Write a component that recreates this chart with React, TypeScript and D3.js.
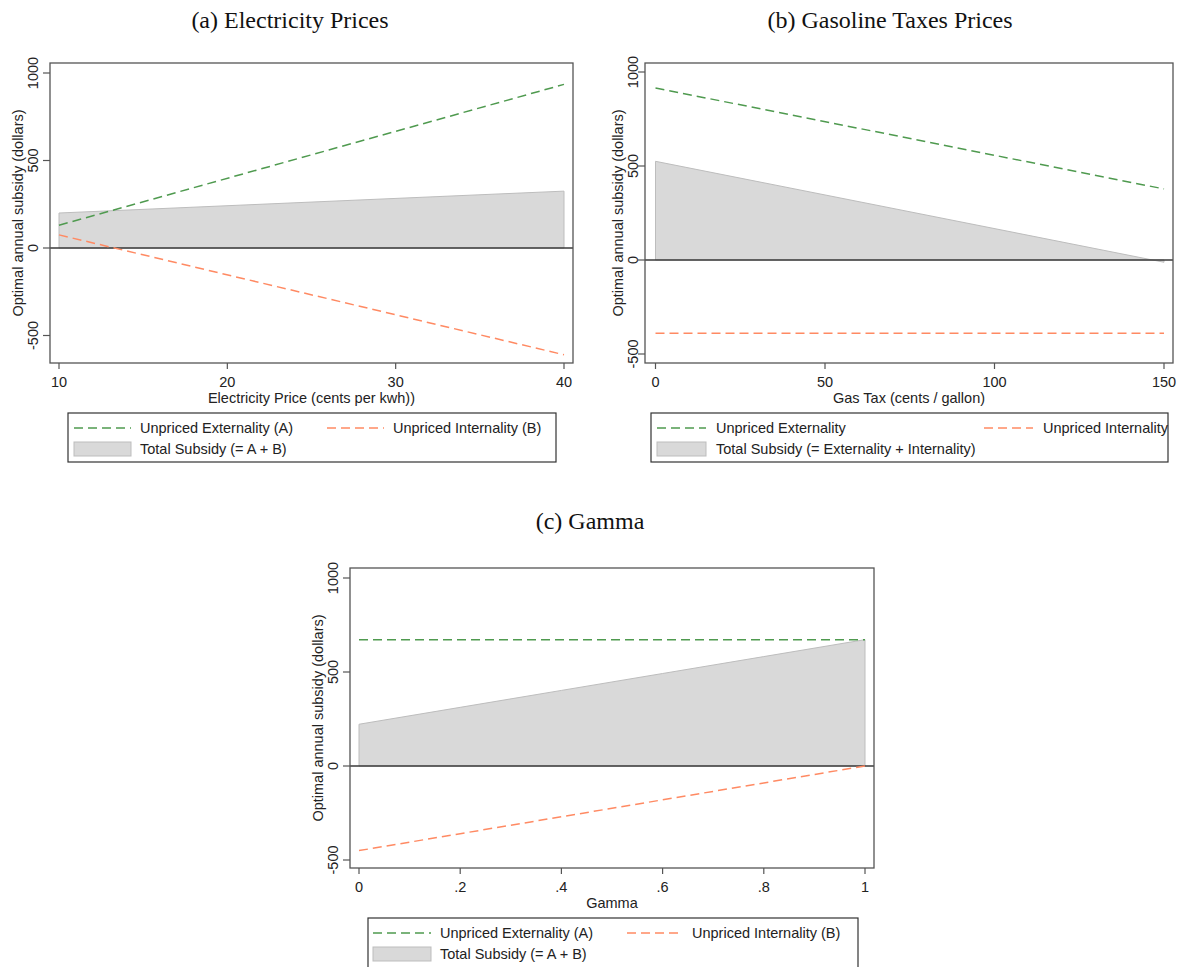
import React from "react";
import * as d3 from "d3";

// values
const yTicks = [-500, 0, 500, 1000];

const elecPrice = [10, 40];
const elecExternality = [130, 935];
const elecInternality = [75, -610];
const elecTotal = [200, 325];
const elecTicks = [10, 20, 30, 40];

const gasTax = [0, 150];
const gasExternality = [915, 378];
const gasInternality = [-390, -390];
const gasTotal = [525, -12];
const gasTicks = [0, 50, 100, 150];

const gamma = [0, 0.2, 0.4, 0.6, 0.8, 1];
const gammaExternality = [672, 672, 672, 672, 672, 672];
const gammaInternality = [-450, -360, -270, -180, -90, 0];
const gammaTotal = [222, 312, 402, 492, 582, 672];
const gammaTicks = [0, 0.2, 0.4, 0.6, 0.8, 1];

const GREEN = "#4f9a4f";
const ORANGE = "#ff8a63";
const FILL = "#d9d9d9";
const FILL_EDGE = "#bdbdbd";
const SANS = "'Liberation Sans', Arial, sans-serif";
const SERIF = "'Liberation Serif', 'Times New Roman', serif";
const DASH = "9,5";

const fmtGamma = (v: number) => (v === 0 ? "0" : v === 1 ? "1" : String(v).replace(/^0/, ""));

type PanelProps = {
  title: string;
  titleX: number;
  titleY: number;
  frame: { left: number; top: number; right: number; bottom: number };
  xDomain: [number, number];
  xRange: [number, number];
  yRange: [number, number];
  xTicks: number[];
  xFormat?: (v: number) => string;
  xLabel: string;
  yLabelShift: number;
  xs: number[];
  ext: number[];
  int: number[];
  total: number[];
  legend: {
    left: number;
    top: number;
    right: number;
    bottom: number;
    key1: [number, number];
    text1: number;
    key2: [number, number];
    text2: number;
    labels: [string, string, string];
  };
};

const Panel = (p: PanelProps) => {
  const { frame, legend } = p;
  const x = d3.scaleLinear().domain(p.xDomain).range(p.xRange);
  const y = d3.scaleLinear().domain([0, 1000]).range(p.yRange);
  const pts = p.xs.map((v, i) => ({ x: v, e: p.ext[i], n: p.int[i], t: p.total[i] }));

  const line = (key: "e" | "n") =>
    d3.line<any>().x((d) => x(d.x)).y((d) => y(d[key]))(pts) || "";
  const area =
    d3
      .area<any>()
      .x((d) => x(d.x))
      .y0(y(0))
      .y1((d) => y(d.t))(pts) || "";

  const fmt = p.xFormat || ((v: number) => String(v));
  const midX = (frame.left + frame.right) / 2;
  const midY = (frame.top + frame.bottom) / 2;
  const row1 = legend.top + 15;
  const row2 = legend.top + 36;

  return (
    <g>
      <text x={p.titleX} y={p.titleY} textAnchor="middle" fontFamily={SERIF} fontSize={24} fill="#111">
        {p.title}
      </text>

      <path d={area + "Z"} fill={FILL} stroke={FILL_EDGE} strokeWidth={1} />
      <line x1={frame.left} x2={frame.right} y1={y(0)} y2={y(0)} stroke="#3a3a3a" strokeWidth={1.6} />
      <path d={line("e")} fill="none" stroke={GREEN} strokeWidth={1.5} strokeDasharray={DASH} />
      <path d={line("n")} fill="none" stroke={ORANGE} strokeWidth={1.5} strokeDasharray={DASH} />

      <rect
        x={frame.left}
        y={frame.top}
        width={frame.right - frame.left}
        height={frame.bottom - frame.top}
        fill="none"
        stroke="#555"
        strokeWidth={1.3}
      />

      {yTicks.map((t) => (
        <g key={t}>
          <line x1={frame.left - 7} x2={frame.left} y1={y(t)} y2={y(t)} stroke="#555" strokeWidth={1.2} />
          <text
            transform={`translate(${frame.left - p.yLabelShift},${y(t)}) rotate(-90)`}
            textAnchor="middle"
            fontFamily={SANS}
            fontSize={14.5}
            fill="#222"
          >
            {t}
          </text>
        </g>
      ))}
      <text
        transform={`translate(${frame.left - p.yLabelShift - 15},${midY}) rotate(-90)`}
        textAnchor="middle"
        fontFamily={SANS}
        fontSize={14.5}
        fill="#222"
      >
        Optimal annual subsidy (dollars)
      </text>

      {p.xTicks.map((t) => (
        <g key={t}>
          <line x1={x(t)} x2={x(t)} y1={frame.bottom} y2={frame.bottom + 6} stroke="#555" strokeWidth={1.2} />
          <text x={x(t)} y={frame.bottom + 24} textAnchor="middle" fontFamily={SANS} fontSize={14.5} fill="#222">
            {fmt(t)}
          </text>
        </g>
      ))}
      <text x={midX} y={frame.bottom + 39.5} textAnchor="middle" fontFamily={SANS} fontSize={14.5} fill="#222">
        {p.xLabel}
      </text>

      <rect
        x={legend.left}
        y={legend.top}
        width={legend.right - legend.left}
        height={legend.bottom - legend.top}
        fill="#fff"
        stroke="#333"
        strokeWidth={1.2}
      />
      <line x1={legend.key1[0]} x2={legend.key1[1]} y1={row1} y2={row1} stroke={GREEN} strokeWidth={1.5} strokeDasharray={DASH} />
      <text x={legend.text1} y={row1 + 5} fontFamily={SANS} fontSize={14.5} fill="#222">
        {legend.labels[0]}
      </text>
      <line x1={legend.key2[0]} x2={legend.key2[1]} y1={row1} y2={row1} stroke={ORANGE} strokeWidth={1.5} strokeDasharray={DASH} />
      <text x={legend.text2} y={row1 + 5} fontFamily={SANS} fontSize={14.5} fill="#222">
        {legend.labels[1]}
      </text>
      <rect
        x={legend.key1[0]}
        y={row2 - 7}
        width={legend.key1[1] - legend.key1[0]}
        height={14}
        fill={FILL}
        stroke={FILL_EDGE}
        strokeWidth={1}
      />
      <text x={legend.text1} y={row2 + 5} fontFamily={SANS} fontSize={14.5} fill="#222">
        {legend.labels[2]}
      </text>
    </g>
  );
};

const App = () => {
  return (
    <div style={{ position: "absolute", left: 0, top: 0 }}>
      <svg width={1182} height={967} style={{ display: "block", background: "#fff" }}>
        <Panel
          title="(a) Electricity Prices"
          titleX={290}
          titleY={28}
          frame={{ left: 50, top: 63, right: 573, bottom: 363 }}
          xDomain={[10, 40]}
          xRange={[59, 564]}
          yRange={[248, 73]}
          xTicks={elecTicks}
          xLabel="Electricity Price (cents per kwh))"
          yLabelShift={12}
          xs={elecPrice}
          ext={elecExternality}
          int={elecInternality}
          total={elecTotal}
          legend={{
            left: 68,
            top: 413,
            right: 556,
            bottom: 462,
            key1: [74, 131],
            text1: 140,
            key2: [327, 384],
            text2: 393,
            labels: ["Unpriced Externality (A)", "Unpriced Internality (B)", "Total Subsidy (= A + B)"],
          }}
        />
        <Panel
          title="(b) Gasoline Taxes Prices"
          titleX={890}
          titleY={28}
          frame={{ left: 645, top: 63, right: 1173, bottom: 363 }}
          xDomain={[0, 150]}
          xRange={[655.5, 1164]}
          yRange={[260, 72]}
          xTicks={gasTicks}
          xLabel="Gas Tax (cents / gallon)"
          yLabelShift={7}
          xs={gasTax}
          ext={gasExternality}
          int={gasInternality}
          total={gasTotal}
          legend={{
            left: 651,
            top: 413,
            right: 1168,
            bottom: 462,
            key1: [657, 706],
            text1: 716,
            key2: [984, 1033],
            text2: 1043,
            labels: [
              "Unpriced Externality",
              "Unpriced Internality",
              "Total Subsidy (= Externality + Internality)",
            ],
          }}
        />
        <Panel
          title="(c) Gamma"
          titleX={590}
          titleY={529}
          frame={{ left: 350, top: 568, right: 874, bottom: 868 }}
          xDomain={[0, 1]}
          xRange={[359, 865]}
          yRange={[766, 578]}
          xTicks={gammaTicks}
          xFormat={fmtGamma}
          xLabel="Gamma"
          yLabelShift={12}
          xs={gamma}
          ext={gammaExternality}
          int={gammaInternality}
          total={gammaTotal}
          legend={{
            left: 368,
            top: 918,
            right: 858,
            bottom: 985,
            key1: [373, 431],
            text1: 440,
            key2: [627, 683],
            text2: 692,
            labels: ["Unpriced Externality (A)", "Unpriced Internality (B)", "Total Subsidy (= A + B)"],
          }}
        />
      </svg>
    </div>
  );
};

export default App;
